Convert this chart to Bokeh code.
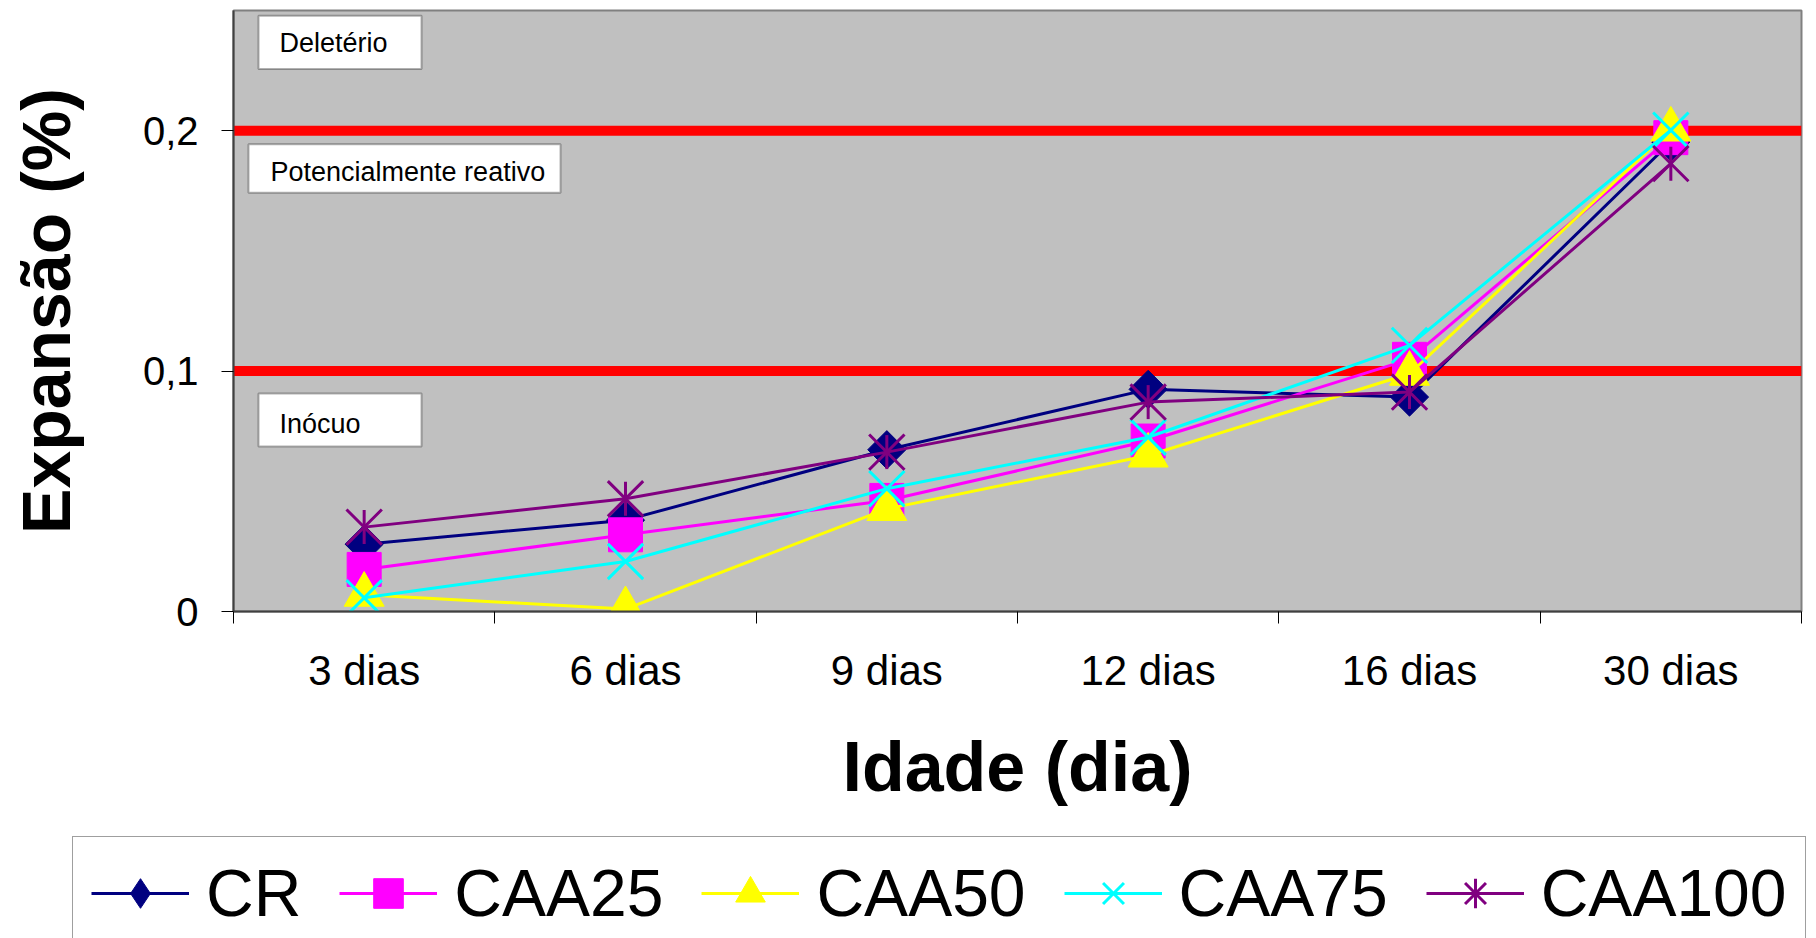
import math
from bokeh.plotting import figure
from bokeh.models import (Range1d, FixedTicker, Span, BoxAnnotation, Label,
                          Legend, LegendItem)
from bokeh.embed import file_html
from bokeh.resources import INLINE

# ---------------- data ----------------
categories = ["3 dias", "6 dias", "9 dias", "12 dias", "16 dias", "30 dias"]
cr = [0.028, 0.038, 0.0673, 0.0924, 0.0892, 0.1953]
caa25 = [0.0175, 0.0319, 0.0462, 0.0709, 0.1049, 0.1971]
caa50 = [0.007, 0.001, 0.0427, 0.0649, 0.0989, 0.2005]
caa75 = [0.0057, 0.0208, 0.0511, 0.0725, 0.1107, 0.2002]
caa100 = [0.0351, 0.0469, 0.0663, 0.0871, 0.0913, 0.1863]
series_names = ["CR", "CAA25", "CAA50", "CAA75", "CAA100"]
limits = [0.1, 0.2]
y_ticks = [0, 0.1, 0.2]
y_tick_labels = ["0", "0,1", "0,2"]
zone_labels = ["Deletério", "Potencialmente reativo", "Inócuo"]

FONT = "Liberation Sans"
xs = [i + 0.5 for i in range(len(categories))]

p = figure(width=1816, height=835, output_backend="svg", toolbar_location=None,
           x_range=Range1d(0, len(categories)), y_range=Range1d(0, 0.25),
           min_border_left=233, min_border_right=15, min_border_top=10,
           min_border_bottom=224)
p.background_fill_color = "#C0C0C0"
p.border_fill_color = "white"
p.outline_line_color = "#808080"
p.outline_line_width = 2
p.xgrid.visible = False
p.ygrid.visible = False

# x axis: labels at category centres, ticks at boundaries
xa = p.xaxis[0]
xa.ticker = FixedTicker(ticks=xs, minor_ticks=list(range(len(categories) + 1)))
xa.major_label_overrides = {x: c for x, c in zip(xs, categories)}
xa.major_tick_out = 0
xa.major_tick_in = 0
xa.minor_tick_out = 12
xa.minor_tick_in = 0
xa.minor_tick_line_color = "black"
xa.major_label_standoff = 23
xa.major_label_text_font = FONT
xa.major_label_text_font_size = "42px"
xa.major_label_text_color = "black"
xa.axis_label = "Idade (dia)"
xa.axis_label_text_font = FONT
xa.axis_label_text_font_size = "70px"
xa.axis_label_text_font_style = "bold"
xa.axis_label_text_color = "black"
xa.axis_label_standoff = 31
xa.axis_line_color = "#404040"
xa.axis_line_width = 2

ya = p.yaxis[0]
ya.ticker = FixedTicker(ticks=y_ticks)
ya.major_label_overrides = {t: l for t, l in zip(y_ticks, y_tick_labels)}
ya.major_tick_out = 12
ya.major_tick_in = 0
ya.major_tick_line_color = "black"
ya.minor_tick_line_color = None
ya.major_label_standoff = 23
ya.major_label_text_font = FONT
ya.major_label_text_font_size = "40px"
ya.major_label_text_color = "black"
ya.axis_label = "Expansão (%)"
ya.axis_label_text_font = FONT
ya.axis_label_text_font_size = "68px"
ya.axis_label_text_font_style = "bold"
ya.axis_label_text_color = "black"
ya.axis_label_standoff = 56
ya.axis_line_color = "#404040"
ya.axis_line_width = 2

# limit lines
for lim in limits:
    p.add_layout(Span(location=lim, dimension="width", line_color="#FF0000",
                      line_width=10, level="underlay"))

# zone text boxes (data units of the plot area)
boxes = [
    (0.0957, 0.7195, 0.2478, 0.2257, 0.176, 0.2363),
    (0.0574, 1.2514, 0.1944, 0.1742, 0.1416, 0.1830),
    (0.0957, 0.7195, 0.0907, 0.0686, 0.176, 0.0782),
]
for (l, r, t, b, tx, ty), txt in zip(boxes, zone_labels):
    p.add_layout(BoxAnnotation(left=l, right=r, top=t, bottom=b,
                               fill_color="white", fill_alpha=1.0,
                               line_color="black", line_width=2, level="underlay"))
    p.add_layout(Label(x=tx, y=ty, text=txt, text_font=FONT,
                       text_font_size="27px", text_baseline="middle",
                       text_align="left", text_color="black"))

# legend strip below the chart (same series, drawn outside its visible range)
p2 = figure(width=1816, height=103, output_backend="svg", toolbar_location=None,
            x_range=Range1d(0, len(categories)), y_range=Range1d(10, 11),
            x_axis_location=None, y_axis_location=None,
            min_border_left=71, min_border_right=0, min_border_top=0,
            min_border_bottom=0)
p2.outline_line_color = None
p2.xgrid.visible = False
p2.ygrid.visible = False
p2.background_fill_color = "white"
p2.border_fill_color = "white"

items = []


def add_marks(fig, vals, color, marker, size, angle=0.0):
    rs = [fig.line(xs, vals, line_color=color, line_width=3)]
    if marker == "star":
        rs.append(fig.scatter(xs, vals, marker="x", size=size, line_color=color,
                              line_width=3))
        rs.append(fig.scatter(xs, vals, marker="dash", size=size * 0.68,
                              angle=math.pi / 2, line_color=color, line_width=3))
    elif marker in ("x", "asterisk"):
        rs.append(fig.scatter(xs, vals, marker=marker, size=size, line_color=color,
                              line_width=3))
    else:
        rs.append(fig.scatter(xs, vals, marker=marker, size=size, angle=angle,
                              fill_color=color, line_color=color, line_width=1))
    return rs


specs = [
    (cr, "#000080", ("square", 27, math.pi / 4), "diamond"),
    (caa25, "#FF00FF", ("square", 34, 0.0), "square"),
    (caa50, "#FFFF00", ("triangle", 40, 0.0), "triangle"),
    (caa75, "#00FFFF", ("x", 50, 0.0), "x"),
    (caa100, "#800080", ("star", 50, 0.0), "asterisk"),
]
for name, (vals, color, (mk, sz, ang), leg_mk) in zip(series_names, specs):
    add_marks(p, vals, color, mk, sz, ang)
    rs = add_marks(p2, vals, color, leg_mk, sz)
    items.append(LegendItem(label=name, renderers=rs))

legend = Legend(items=items, orientation="horizontal", location="top_left",
                label_text_font=FONT, label_text_font_size="66px",
                label_text_color="black", glyph_width=98, glyph_height=74,
                label_standoff=17, spacing=38, padding=18, margin=1,
                border_line_color="#404040", border_line_width=1,
                background_fill_color="white", background_fill_alpha=1.0)
p2.add_layout(legend)

open("out.html", "w").write(file_html([p, p2], INLINE))
